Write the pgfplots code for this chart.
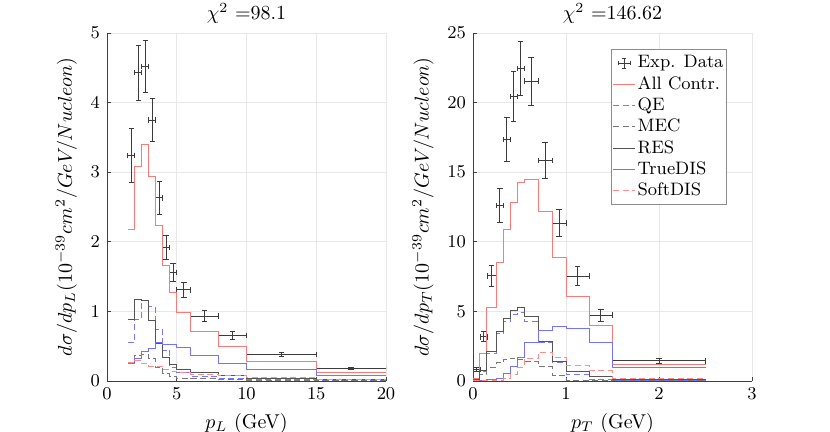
\documentclass[border=0pt]{standalone}
\usepackage{pgfplots}
\pgfplotsset{compat=1.18}
\usepackage{pgfplotstable}

\definecolor{cAll}{RGB}{255,120,120}
\definecolor{cQE}{RGB}{120,120,255}
\definecolor{cMEC}{RGB}{120,120,120}
\definecolor{cRES}{RGB}{85,85,85}
\definecolor{cDIS}{RGB}{115,115,255}
\definecolor{cSoft}{RGB}{255,140,140}
\definecolor{cData}{RGB}{60,60,60}

\pgfplotstableread{
x y ex ey
1.75 3.24 0.25 0.385
2.25 4.43 0.25 0.395
2.75 4.52 0.25 0.37
3.25 3.75 0.25 0.315
3.75 2.63 0.25 0.23
4.25 1.92 0.25 0.17
4.75 1.56 0.25 0.135
5.5 1.31 0.5 0.105
7 0.93 1 0.077
9 0.655 1 0.06
12.5 0.383 2.5 0.03
17.5 0.177 2.5 0.015
}\dataL

\pgfplotstableread{
x y ex ey
0.0375 0.82 0.0375 0.12
0.1125 3.18 0.0375 0.36
0.2 7.56 0.05 0.74
0.2875 12.6 0.0375 1.22
0.3625 17.36 0.0375 1.6
0.4375 20.45 0.0375 1.8
0.5125 22.46 0.0375 1.95
0.625 21.53 0.075 1.73
0.775 15.85 0.075 1.3
0.925 11.33 0.075 0.98
1.125 7.54 0.125 0.66
1.375 4.72 0.125 0.45
2.0 1.44 0.5 0.15
}\dataR

\pgfplotstableread{
x all qe mec res dis soft
1.5 2.18 0.55 0.25 0.886 0.254 0.26
2 3.08 0.89 0.36 1.178 0.326 0.30
2.5 3.405 1.16 0.38 1.15 0.417 0.25
3 2.945 1.07 0.32 0.87 0.47 0.215
3.5 2.24 0.745 0.20 0.54 0.556 0.21
4 1.66 0.445 0.11 0.34 0.53 0.16
4.5 1.27 0.20 0.07 0.24 0.53 0.14
5 0.985 0.12 0.04 0.17 0.48 0.12
6 0.718 0.07 0.03 0.125 0.373 0.10
8 0.49 0.04 0.015 0.075 0.254 0.08
10 0.277 0.02 0.006 0.04 0.158 0.05
15 0.12 0.01 0.002 0.015 0.072 0.025
20 0.12 0.01 0.002 0.015 0.072 0.025
}\histL

\pgfplotstableread{
x all qe mec res dis soft
0 0.2 0.05 0.1 0.1 0.0 0.0
0.075 1.99 0.7 0.5 0.75 0.02 0.02
0.15 5.29 2.0 0.95 2.11 0.08 0.03
0.25 8.53 3.4 1.3 3.54 0.2 0.06
0.325 10.9 4.3 1.55 4.5 0.55 0.15
0.4 12.81 4.75 1.65 5.1 1.03 0.45
0.475 14.27 4.9 1.55 5.29 1.7 1.0
0.55 14.51 4.3 1.4 4.62 2.75 1.63
0.7 12.16 2.75 1.03 2.83 3.66 2.06
0.85 8.89 1.3 0.43 1.42 3.9 1.7
1.0 6.06 0.45 0.07 0.7 3.75 1.1
1.25 4.0 0.12 0.03 0.3 2.75 0.72
1.5 1.2 0.03 0.01 0.08 1.0 0.19
2.5 1.2 0.03 0.01 0.08 1.0 0.19
}\histR

\pgfplotsset{
  myax/.style={
    scale only axis, width=139.5pt, height=174pt,
    axis x line*=bottom, axis y line*=left,
    grid=major, major grid style={black!9, line width=0.4pt},
    tick align=inside, major tick length=2pt,
    tick style={black!75, line width=0.4pt},
    axis line style={black!75, line width=0.4pt},
    ticklabel style={font=\small},
    label style={font=\normalsize},
    every axis title shift=0pt,
    title style={font=\normalsize, at={(0.5,1)}, anchor=south, inner sep=0pt, yshift=4.5pt},
    every axis plot/.append style={line width=0.5pt},
  },
  dashs/.style={dash pattern=on 3pt off 1.8pt},
  errs/.style={draw=none, mark=none,
    error bars/x dir=both, error bars/x explicit,
    error bars/y dir=both, error bars/y explicit,
    error bars/error bar style={draw=cData, line width=0.45pt},
    error bars/error mark options={rotate=90, mark size=1.4pt, draw=cData, line width=0.45pt}},
}

\begin{document}
\begin{tikzpicture}
\path[use as bounding box] (0,0) rectangle (415pt,216pt);

\begin{axis}[myax, at={(53.5pt,25.5pt)}, anchor=south west,
  xmin=0, xmax=20, ymin=0, ymax=5,
  xtick={0,5,10,15,20}, ytick={0,1,2,3,4,5},
  title={$\chi^2$ =98.1},
  xlabel={$p_L$ (GeV)},
  ylabel={$d\sigma/dp_L(10^{-39}cm^2/GeV/Nucleon)$},
]
\addplot[errs] table[x=x, y=y, x error=ex, y error=ey] {\dataL};
\addplot[const plot, cAll] table[x=x, y=all] {\histL};
\addplot[const plot, cQE, dashs] table[x=x, y=qe] {\histL};
\addplot[const plot, cMEC, dashs] table[x=x, y=mec] {\histL};
\addplot[const plot, cRES] table[x=x, y=res] {\histL};
\addplot[const plot, cDIS] table[x=x, y=dis] {\histL};
\addplot[const plot, cSoft, dashs] table[x=x, y=soft] {\histL};
\end{axis}

\begin{axis}[myax, at={(236.5pt,25.5pt)}, anchor=south west,
  xmin=0, xmax=3, ymin=0, ymax=25,
  xtick={0,1,2,3}, ytick={0,5,10,15,20,25},
  title={$\chi^2$ =146.62},
  xlabel={$p_T$ (GeV)},
  ylabel={$d\sigma/dp_T(10^{-39}cm^2/GeV/Nucleon)$},
  legend style={at={(0.91,0.954)}, anchor=north east, font=\small,
    draw=black!45, line width=0.4pt, inner xsep=0.5pt, inner ysep=1pt, row sep=-1.2pt,
    nodes={inner xsep=1pt}, cells={anchor=west}},
  legend image code/.code={\draw[#1, line width=0.5pt] (0pt,0pt) -- (11pt,0pt);},
]
\addlegendimage{legend image code/.code={
    \draw[cData, line width=0.4pt] (2.5pt,0pt) -- (8.5pt,0pt) (5.5pt,-2.5pt) -- (5.5pt,2.5pt)
      (2.5pt,-1pt) -- (2.5pt,1pt) (8.5pt,-1pt) -- (8.5pt,1pt)
      (4.5pt,-2.5pt) -- (6.5pt,-2.5pt) (4.5pt,2.5pt) -- (6.5pt,2.5pt);}}
\addlegendentry{Exp. Data}
\addlegendimage{cAll}
\addlegendentry{All Contr.}
\addlegendimage{cQE, dashs}
\addlegendentry{QE}
\addlegendimage{cMEC, dashs}
\addlegendentry{MEC}
\addlegendimage{cRES}
\addlegendentry{RES}
\addlegendimage{cDIS}
\addlegendentry{TrueDIS}
\addlegendimage{cSoft, dashs}
\addlegendentry{SoftDIS}
\addplot[forget plot, errs] table[x=x, y=y, x error=ex, y error=ey] {\dataR};
\addplot[const plot, cAll, forget plot] table[x=x, y=all] {\histR};
\addplot[const plot, cQE, dashs, forget plot] table[x=x, y=qe] {\histR};
\addplot[const plot, cMEC, dashs, forget plot] table[x=x, y=mec] {\histR};
\addplot[const plot, cRES, forget plot] table[x=x, y=res] {\histR};
\addplot[const plot, cDIS, forget plot] table[x=x, y=dis] {\histR};
\addplot[const plot, cSoft, dashs, forget plot] table[x=x, y=soft] {\histR};
\end{axis}
\end{tikzpicture}
\end{document}
